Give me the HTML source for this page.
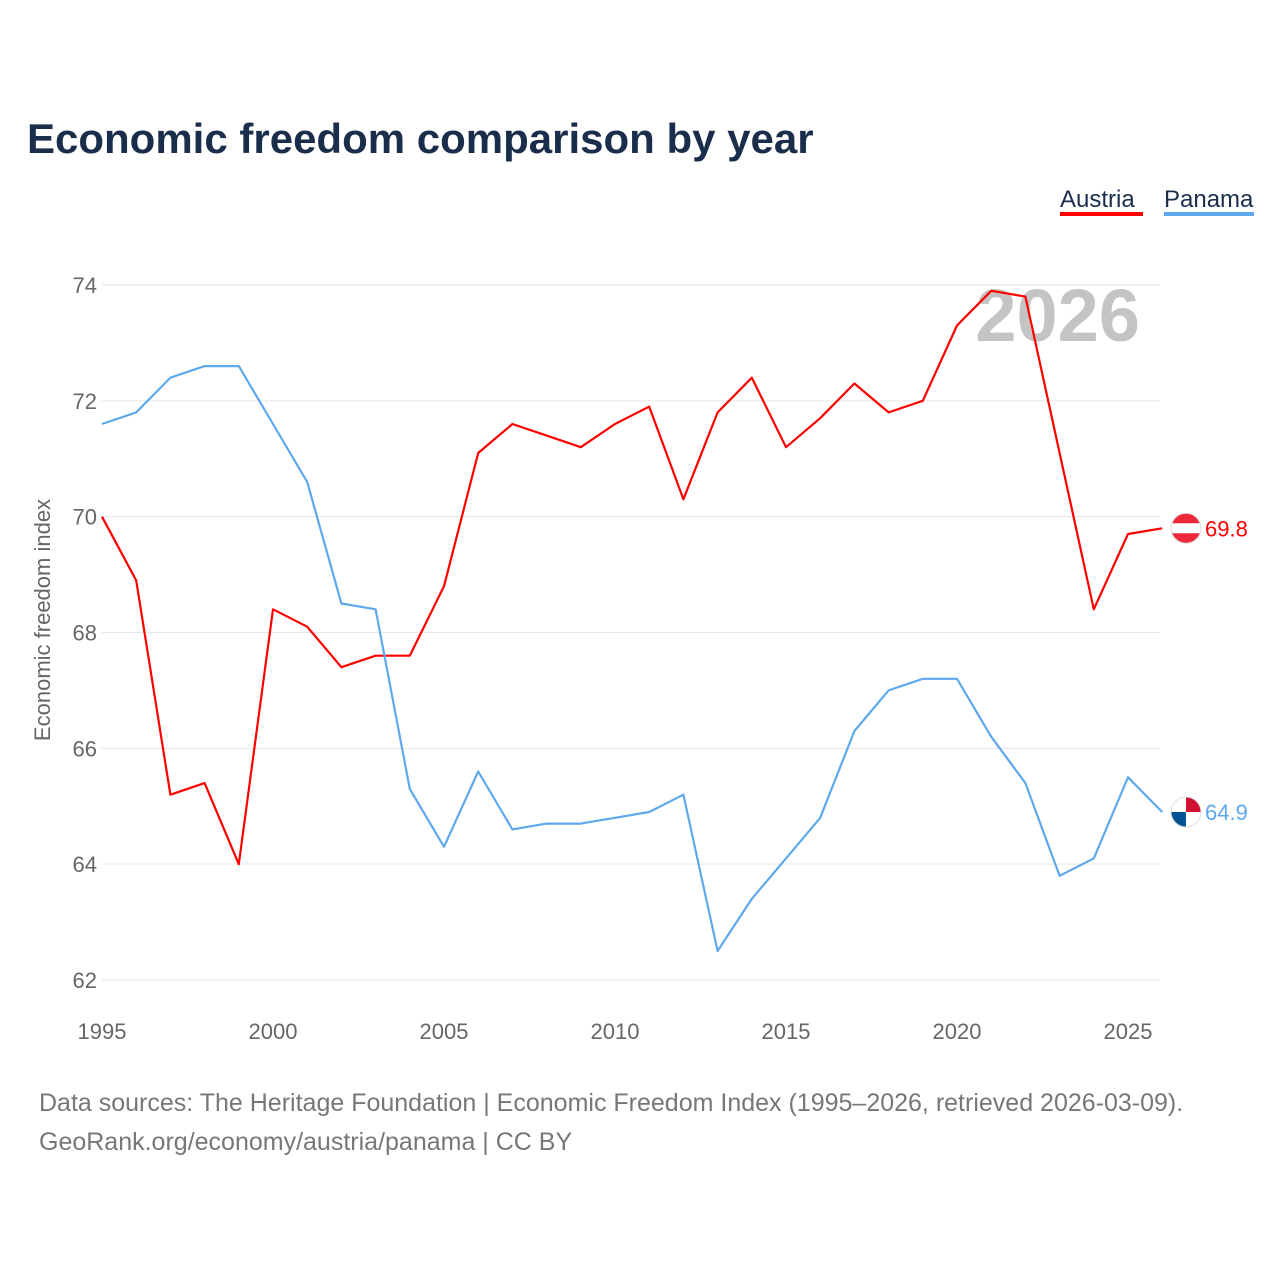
<!DOCTYPE html>
<html><head><meta charset="utf-8">
<style>
body{margin:0;background:#fff;}
svg text{font-family:"Liberation Sans",sans-serif;}
</style></head>
<body>
<svg id="chart" width="1280" height="1280" viewBox="0 0 1280 1280" xmlns="http://www.w3.org/2000/svg">
<rect width="1280" height="1280" fill="#fff"/>
<text x="27" y="153" font-size="42" font-weight="bold" fill="#1a2e4c">Economic freedom comparison by year</text>
<g>
<text x="1060" y="207" font-size="24" fill="#1a2e4c">Austria</text>
<rect x="1060" y="212" width="83" height="4" fill="#ff0000"/>
<text x="1164" y="207" font-size="24" fill="#1a2e4c">Panama</text>
<rect x="1164" y="212" width="90" height="4" fill="#5ea8ec"/>
</g>
<text x="1140" y="341" text-anchor="end" font-size="74" font-weight="bold" fill="#c4c4c4">2026</text>
<g id="grid"></g><g id="series"></g>
<text transform="translate(50,620) rotate(-90)" text-anchor="middle" font-size="22" fill="#666">Economic freedom index</text>
<text x="39" y="1111" font-size="25" fill="#777">Data sources: The Heritage Foundation | Economic Freedom Index (1995–2026, retrieved 2026-03-09).</text>
<text x="39" y="1150" font-size="25" fill="#777">GeoRank.org/economy/austria/panama | CC BY</text>
</svg>
<script>
const years=[1995,1996,1997,1998,1999,2000,2001,2002,2003,2004,2005,2006,2007,2008,2009,2010,2011,2012,2013,2014,2015,2016,2017,2018,2019,2020,2021,2022,2023,2024,2025,2026];
const austria=[70.0,68.9,65.2,65.4,64.0,68.4,68.1,67.4,67.6,67.6,68.8,71.1,71.6,71.4,71.2,71.6,71.9,70.3,71.8,72.4,71.2,71.7,72.3,71.8,72.0,73.3,73.9,73.8,71.1,68.4,69.7,69.8];
const panama=[71.6,71.8,72.4,72.6,72.6,71.6,70.6,68.5,68.4,65.3,64.3,65.6,64.6,64.7,64.7,64.8,64.9,65.2,62.5,63.4,64.1,64.8,66.3,67.0,67.2,67.2,66.2,65.4,63.8,64.1,65.5,64.9];
const yTicks=[62,64,66,68,70,72,74];
const xTicks=[1995,2000,2005,2010,2015,2020,2025];
const NS="http://www.w3.org/2000/svg";
const x=v=>102+(v-1995)*(1128-102)/30;
const y=v=>980-(v-62)*(980-285)/12;
function mk(tag,attrs,parent){const e=document.createElementNS(NS,tag);for(const k in attrs)e.setAttribute(k,attrs[k]);parent.appendChild(e);return e;}
const grid=document.getElementById('grid'),series=document.getElementById('series');
yTicks.forEach(t=>{
 const l=mk('line',{x1:102,x2:1160,y1:y(t),y2:y(t),stroke:'#e6e6e6','stroke-width':1},grid);
 
 
 const tx=mk('text',{x:97,y:y(t)+8,'text-anchor':'end','font-size':22,fill:'#666'},grid);
 tx.textContent=t;
 
 
});
xTicks.forEach(t=>{
 const tx=mk('text',{x:x(t),y:1039,'text-anchor':'middle','font-size':22,fill:'#666'},grid);
 tx.textContent=t;
 
 
});
function line(vals,color,name){
 const d=vals.map((v,i)=>(i?'L':'M')+x(years[i]).toFixed(1)+','+y(v).toFixed(1)).join('');
 const p=mk('path',{d:d,fill:'none',stroke:color,'stroke-width':2.2,'stroke-linejoin':'round'},series);
 
 
}
line(austria,'#ff0000','austria-line');
line(panama,'#5ea8ec','panama-line');
function endLabel(vals,color,name,flag){
 const v=vals[vals.length-1],cx=1186,cy=y(v);
 const g=mk('g',{},series);
 
 
 if(flag==='at'){
  mk('circle',{cx:cx,cy:cy,r:15,fill:'#ed2939'},g);
  mk('rect',{x:cx-15,y:cy-5,width:30,height:10,fill:'#fff'},g);
 }else{
  mk('circle',{cx:cx,cy:cy,r:15,fill:'#fff'},g);
  mk('path',{d:`M${cx},${cy}L${cx-15},${cy}A15,15 0 0 0 ${cx},${cy+15}Z`,fill:'#005293'},g);
  mk('path',{d:`M${cx},${cy}L${cx+15},${cy}A15,15 0 0 0 ${cx},${cy-15}Z`,fill:'#d21034'},g);
 }
 mk('circle',{cx:cx,cy:cy,r:15,fill:'none',stroke:'#ddd','stroke-width':1},g);
 const t=mk('text',{x:1205,y:cy+8,'font-size':22,fill:color},series);
 t.textContent=v.toFixed(1);
 
 
}
endLabel(austria,'#ff0000','austria','at');
endLabel(panama,'#5ea8ec','panama','pa');
</script>
</body></html>
